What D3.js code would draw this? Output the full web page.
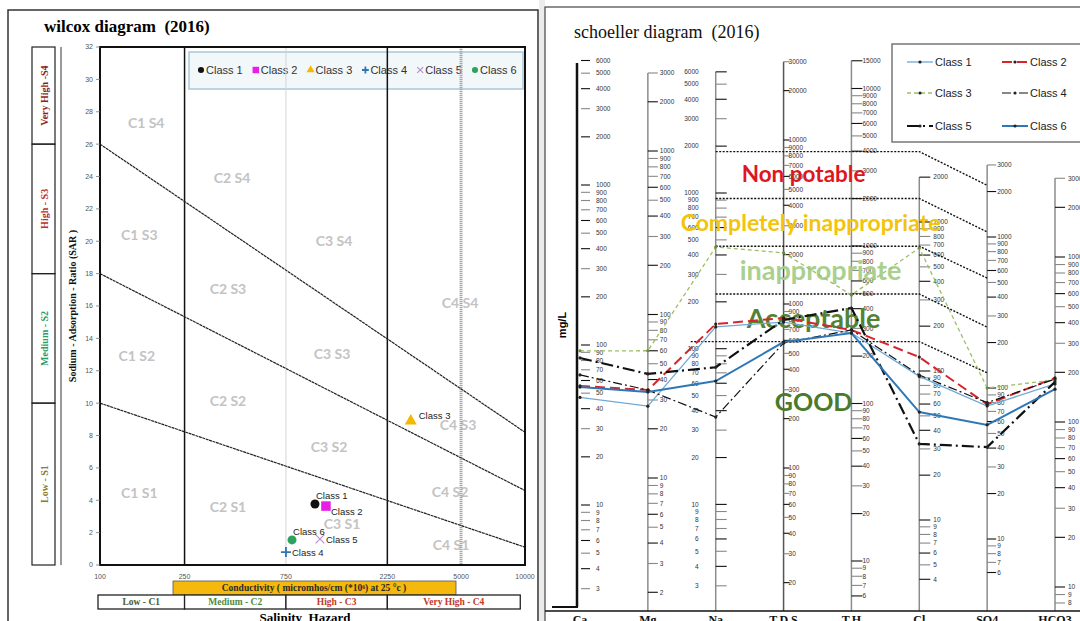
<!DOCTYPE html>
<html><head><meta charset="utf-8">
<script src="https://cdn.jsdelivr.net/npm/d3@7"></script>
<style>html,body{margin:0;padding:0;background:#fff;} svg{display:block;}</style>
</head><body>
<svg id="chart" width="1080" height="621"></svg>
<script>
// ================= WILCOX DATA =================
const wilcoxClasses = ["Class 1","Class 2","Class 3","Class 4","Class 5","Class 6"];
const wilcoxEC  = [1027, 1157, 2900, 750, 1084, 801];
const wilcoxSAR = [3.77, 3.64, 8.9, 0.8, 1.6, 1.55];
const ecTicks = [100, 250, 750, 2250, 5000, 10000];
const sarTicks = [0,2,4,6,8,10,12,14,16,18,20,22,24,26,28,30,32];
const sarLineStart = [26, 18, 10];    // SAR at EC = 100
const sarLineEnd   = [8.2, 4.6, 1.1]; // SAR at EC = 10000
const zoneLabels = ["C1 S4","C2 S4","C1 S3","C2 S3","C3 S4","C4 S4","C1 S2","C2 S2","C3 S3","C3 S2","C4 S3","C1 S1","C2 S1","C3 S1","C4 S2","C4 S1"];
const zoneEC  = [165, 418, 153, 400, 1262, 4943, 149, 400, 1236, 1197, 4842, 153, 400, 1377, 4436, 4485];
const zoneSAR = [27.3, 23.9, 20.4, 17.05, 20.0, 16.2, 12.9, 10.1, 13.0, 7.3, 8.65, 4.45, 3.6, 2.55, 4.5, 1.2];
const sodiumHazard = ["Low - S1","Medium - S2","High - S3","Very High -S4"];
const sodiumBounds = [0, 10, 18, 26, 32];
const salinityHazard = ["Low - C1","Medium - C2","High - C3","Very High - C4"];
const salinityBounds = [100, 250, 750, 2250, 9500];

// ================= SCHOELLER DATA =================
const schoellerParams = ["Ca","Mg","Na","T.D.S","T.H","Cl","SO4","HCO3"];
const schoellerClasses = ["Class 1","Class 2","Class 3","Class 4","Class 5","Class 6"];
const class1Values = [47, 27.5, 138, 776, 280, 92, 76, 170];
const class2Values = [55.5, 34.5, 144, 822, 293, 124, 78, 185];
const class3Values = [92, 60, 450, 2050, 489, 669, 100, 180];
const class4Values = [65, 34.5, 36.4, 578, 293, 94, 80, 182];
const class5Values = [83, 43.3, 76, 799, 404, 32.4, 40.6, 175];
const class6Values = [54.6, 33.6, 62, 586, 280, 53, 57, 158];
const axisDomains = [[3,6000],[2,3000],[3,6000],[20,30000],[6,15000],[4,2000],[6,3000],[6,3000]];
const zoneNames = ["Non potable","Completely inappropriate","inappropriate","Acceptable","GOOD"];
const zoneBoundTDS = [8500, 4400, 2250, 1150, 590];
const zoneBoundSO4 = [2200, 1080, 535, 253, 126];
const zoneLabelTDS = [6200, 3100, 1610, 820, 250];

// ================= STYLE / LAYOUT =================
const serif = "'Liberation Serif','Times New Roman',serif";
const sans  = "'Liberation Sans',Arial,sans-serif";
const cal   = "Lato,'Open Sans',sans-serif";
const svg = d3.select("#chart");

// frames
svg.append("rect").attr("x",539).attr("y",0).attr("width",6).attr("height",621).attr("fill","#ececec");
svg.append("rect").attr("x",8).attr("y",10).attr("width",530).attr("height",660)
  .attr("fill","#fff").attr("stroke","#333").attr("stroke-width",1.5);
svg.append("rect").attr("x",545).attr("y",7).attr("width",560).attr("height",660)
  .attr("fill","#fff").attr("stroke","#444").attr("stroke-width",1.2);

// ---------------- WILCOX ----------------
const W = {left:100, right:525, top:47, bottom:565};
const x = d3.scaleLog().domain([100,10000]).range([W.left, W.right]);
const y = d3.scaleLinear().domain([0,32]).range([W.bottom, W.top]);
const gw = svg.append("g");

gw.append("text").attr("x",44).attr("y",32).text("wilcox diagram  (2016)")
  .style("white-space","pre").attr("font-family",serif).attr("font-weight","bold").attr("font-size",17);

// legend box (behind lines)
const legX0 = 201, legStep = 54.8, legY = 70;
gw.append("rect").attr("x",189).attr("y",52).attr("width",334).attr("height",37)
  .attr("fill","#f2f7fa").attr("stroke","#aac9d8").attr("stroke-width",1.5);
const markerColors = ["#111","#e61ee6","#f5b800","#2e75b6","#b58bd0","#2da160"];
function drawMarker(g, i, cx, cy, s) {
  if (i === 0 || i === 5) g.append("circle").attr("cx",cx).attr("cy",cy).attr("r",3.6*s).attr("fill",markerColors[i]);
  else if (i === 1) g.append("rect").attr("x",cx-3.8*s).attr("y",cy-3.8*s).attr("width",7.6*s).attr("height",7.6*s).attr("fill",markerColors[i]);
  else if (i === 2) g.append("path").attr("d",d3.symbol(d3.symbolTriangle, 40*s*s)()).attr("transform",`translate(${cx},${cy})`).attr("fill",markerColors[i]);
  else if (i === 3) g.append("path").attr("d",`M${cx-4*s},${cy}H${cx+4*s}M${cx},${cy-4*s}V${cy+4*s}`).attr("stroke",markerColors[i]).attr("stroke-width",1.8);
  else g.append("path").attr("d",`M${cx-3.5*s},${cy-3.5*s}L${cx+3.5*s},${cy+3.5*s}M${cx-3.5*s},${cy+3.5*s}L${cx+3.5*s},${cy-3.5*s}`).attr("stroke",markerColors[i]).attr("stroke-width",1.1);
}
wilcoxClasses.forEach((c,i) => {
  const cx = legX0 + i*legStep;
  drawMarker(gw, i, cx, legY, 0.85);
  gw.append("text").attr("x",cx+5).attr("y",legY).attr("dy","0.35em").text(c)
    .attr("font-family",sans).attr("font-size",11).attr("fill","#333");
});

// region labels
zoneLabels.forEach((t,i) => {
  gw.append("text").attr("x",x(zoneEC[i])).attr("y",y(zoneSAR[i])).attr("dy","0.35em")
    .attr("text-anchor","middle").text(t).attr("font-family",cal).attr("font-weight","bold")
    .attr("font-size",14).attr("fill","#c3c3c3");
});

// vertical class lines
gw.append("line").attr("x1",x(750)).attr("x2",x(750)).attr("y1",W.top).attr("y2",W.bottom).attr("stroke","#d4d4d4").attr("stroke-width",1);
gw.append("line").attr("x1",x(5000)).attr("x2",x(5000)).attr("y1",W.top).attr("y2",W.bottom).attr("stroke","#a8a8a8").attr("stroke-width",3).attr("stroke-dasharray","1.2,0.8");
[250, 2250].forEach(v => gw.append("line").attr("x1",x(v)).attr("x2",x(v)).attr("y1",W.top).attr("y2",W.bottom).attr("stroke","#111").attr("stroke-width",1.5));

// diagonal SAR lines
sarLineStart.forEach((s,i) => {
  gw.append("line").attr("x1",x(100)).attr("y1",y(s)).attr("x2",x(10000)).attr("y2",y(sarLineEnd[i]))
    .attr("stroke","#222").attr("stroke-width",1.2).attr("stroke-dasharray","3,0.6");
});

// plot border
gw.append("rect").attr("x",W.left).attr("y",W.top).attr("width",W.right-W.left).attr("height",W.bottom-W.top)
  .attr("fill","none").attr("stroke","#111").attr("stroke-width",2);

// y ticks
sarTicks.forEach(v => {
  gw.append("text").attr("x",93).attr("y",y(v)).attr("dy","0.35em").attr("text-anchor","end").text(v)
    .attr("font-family",sans).attr("font-size",7).attr("fill","#555");
  gw.append("line").attr("x1",96).attr("x2",W.left).attr("y1",y(v)).attr("y2",y(v)).attr("stroke","#777").attr("stroke-width",0.8);
});
// x ticks
ecTicks.forEach(v => {
  gw.append("text").attr("x",x(v)).attr("y",577).attr("dy","0.35em").attr("text-anchor","middle").text(v)
    .attr("font-family",sans).attr("font-size",7).attr("fill","#555");
});

// points
const ptLabelDx = [1, 5, 8, 6, 6, 1];
const ptLabelDy = [-8, 6, -5, 1, 1, -8];
wilcoxClasses.forEach((c,i) => {
  const px = x(wilcoxEC[i]), py = y(wilcoxSAR[i]);
  drawMarker(gw, i, px, py, 1.25);
  gw.append("text").attr("x", px + ptLabelDx[i]).attr("y", py + ptLabelDy[i]).attr("dy","0.35em")
    .text(c).attr("font-family",sans).attr("font-size",9.5).attr("fill","#222");
});

// sodium hazard boxes
const sodColors = ["#8a7b2c","#2f9a6a","#b8312f","#8f1f1f"];
sodiumHazard.forEach((t,i) => {
  const y0 = y(sodiumBounds[i+1]), y1 = y(sodiumBounds[i]);
  gw.append("rect").attr("x",32).attr("y",y0).attr("width",23).attr("height",y1-y0)
    .attr("fill","none").attr("stroke","#222").attr("stroke-width",1.2);
  gw.append("text").attr("transform",`translate(44,${(y0+y1)/2}) rotate(-90)`).attr("dy","0.35em")
    .attr("text-anchor","middle").text(t).attr("font-family",serif).attr("font-weight","bold")
    .attr("font-size",10).attr("fill",sodColors[i]);
});
gw.append("line").attr("x1",61).attr("x2",61).attr("y1",y(32)).attr("y2",y(0)).attr("stroke","#9a9a9a").attr("stroke-width",2);
gw.append("text").attr("transform",`translate(72,${(W.top+W.bottom)/2}) rotate(-90)`).attr("dy","0.35em")
  .attr("text-anchor","middle").text("Sodium - Adsorption - Ratio (SAR )")
  .attr("font-family",serif).attr("font-weight","bold").attr("font-size",10).attr("fill","#111");

// conductivity bar
gw.append("rect").attr("x",173).attr("y",581).attr("width",283).attr("height",14)
  .attr("fill","#f5b80c").attr("stroke","#555").attr("stroke-width",0.8);
gw.append("text").attr("x",314).attr("y",588).attr("dy","0.35em").attr("text-anchor","middle")
  .text("Conductivity ( micromhos/cm (*10⁶) at 25 °c )")
  .attr("font-family",serif).attr("font-weight","bold").attr("font-size",9.5).attr("fill","#2a2a2a");

// salinity hazard boxes
const salColors = ["#4b5b2b","#4f8b3b","#c0392b","#c0392b"];
salinityHazard.forEach((t,i) => {
  const x0 = x(salinityBounds[i]) - (i===0?2:0), x1 = x(salinityBounds[i+1]);
  gw.append("rect").attr("x",x0).attr("y",595).attr("width",x1-x0).attr("height",14)
    .attr("fill","#fff").attr("stroke","#222").attr("stroke-width",1.3);
  gw.append("text").attr("x",(x0+x1)/2).attr("y",602).attr("dy","0.35em").attr("text-anchor","middle").text(t)
    .attr("font-family",serif).attr("font-weight","bold").attr("font-size",9.5).attr("fill",salColors[i]);
});
gw.append("text").attr("x",305).attr("y",622).attr("text-anchor","middle").text("Salinity  Hazard")
  .style("white-space","pre").attr("font-family",serif).attr("font-weight","bold").attr("font-size",13);

// ---------------- SCHOELLER ----------------
const gs = svg.append("g");
gs.append("text").attr("x",574).attr("y",38).text("schoeller diagram  (2016)").style("white-space","pre")
  .attr("font-family",serif).attr("font-size",18).attr("fill","#111");

const xS = d3.scalePoint().domain(schoellerParams).range([580,1055]);
const axisY1000 = [185, 151, 193, 304, 246, 222, 237, 257];
const axisPxPerDecade = [160, 163.5, 155.7, 164, 157.5, 149, 151, 165];
const yS = axisY1000.map((y0,i) => d3.scaleLog().domain([1000,10]).range([y0, y0 + 2*axisPxPerDecade[i]]));
const tickLen = [10, 10, 11, 6, 11, 11, 9, 10];
const labelOff = [16, 12, -17, 5, 11, 14, 10, 13];
const axisBottom = 611;

// mg/L axis
gs.append("line").attr("x1",577).attr("x2",577).attr("y1",63).attr("y2",607).attr("stroke","#111").attr("stroke-width",2.5);
gs.append("line").attr("x1",552).attr("x2",578).attr("y1",607).attr("y2",607).attr("stroke","#111").attr("stroke-width",2);
gs.append("text").attr("transform","translate(562,325) rotate(-90)").attr("dy","0.35em").attr("text-anchor","middle")
  .text("mg/L").attr("font-family",sans).attr("font-weight","bold").attr("font-size",11);

schoellerParams.forEach((p,i) => {
  const ax = xS(p), sc = yS[i], dom = axisDomains[i];
  if (i > 0) gs.append("line").attr("x1",ax).attr("x2",ax).attr("y1",sc(dom[1])).attr("y2",axisBottom)
    .attr("stroke", i===3 ? "#555" : "#8c8c8c").attr("stroke-width",1.5);
  let ticks = d3.scaleLog().domain(dom).ticks().filter(v => v >= dom[0] && v <= dom[1] && sc(v) < axisBottom - 4);
  if (ticks[ticks.length-1] !== dom[1]) ticks.push(dom[1]);
  ticks.forEach(v => {
    const ty = sc(v);
    const lead = +String(v)[0];
    gs.append("line").attr("x1",ax+(i===0?1:0)).attr("x2",ax+tickLen[i]).attr("y1",ty).attr("y2",ty)
      .attr("stroke", (lead===1||lead===2||lead===4||lead===6) ? "#111" : "#888").attr("stroke-width",1.1);
    gs.append("text").attr("x",ax+labelOff[i]).attr("y",ty).attr("dy","0.35em")
      .attr("text-anchor", labelOff[i] < 0 ? "end" : "start").text(v)
      .attr("font-family",sans).attr("font-size",6.5).attr("fill","#333");
  });
  gs.append("text").attr("x",ax).attr("y",624).attr("text-anchor","middle").text(p)
    .attr("font-family",serif).attr("font-weight","bold").attr("font-size",12).attr("fill","#111");
});
gs.append("line").attr("x1",545).attr("x2",1080).attr("y1",axisBottom).attr("y2",axisBottom).attr("stroke","#111").attr("stroke-width",1.5);

// zone boundaries
const iTDS = 3, iSO4 = 6;
zoneBoundTDS.forEach((b,i) => {
  const yy = yS[iTDS](b);
  const xStart = xS("Na") - (i === zoneBoundTDS.length-1 ? 25 : 0);
  gs.append("path").attr("d",`M${xStart},${yy}L${xS("Cl")},${yy}L${xS("SO4")},${yS[iSO4](zoneBoundSO4[i])}`)
    .attr("fill","none").attr("stroke","#111").attr("stroke-width",1.4).attr("stroke-dasharray","2,1.5");
});
// zone labels
const zoneColors = ["#e0161f","#f2c40c","#a9d08e","#548235","#4a7a2c"];
const zoneSizes = [22.5, 23, 27, 27, 25];
const zoneDx = [20, 27, 37, 30, 30];
zoneNames.forEach((t,i) => {
  gs.append("text").attr("x",xS("T.D.S")+zoneDx[i]).attr("y",yS[iTDS](zoneLabelTDS[i])).attr("dy","0.35em")
    .attr("text-anchor","middle").text(t).attr("font-family",cal).attr("font-weight","bold")
    .attr("font-size",zoneSizes[i]).attr("fill",zoneColors[i]);
});

// series
const seriesValues = [class1Values, class2Values, class3Values, class4Values, class5Values, class6Values];
const seriesColors = ["#6fa8d6","#d7262b","#9dbf62","#111","#111","#2f78b7"];
const seriesWidths = [1.3, 2, 1.3, 1.2, 2.2, 2];
const seriesDash = [null, "10,5", "4,3", "9,3,2,3", "12,4,2,4", null];
const line = d3.line().x((d,i) => xS(schoellerParams[i])).y((d,i) => yS[i](d));
seriesValues.forEach((vals,k) => {
  gs.append("path").attr("d", line(vals)).attr("fill","none").attr("stroke",seriesColors[k])
    .attr("stroke-width",seriesWidths[k]).attr("stroke-dasharray",seriesDash[k]);
  vals.forEach((v,i) => gs.append("circle").attr("cx",xS(schoellerParams[i])).attr("cy",yS[i](v)).attr("r",1.6)
    .attr("fill", k===2 ? "#6b8a3a" : "#222"));
});

// right legend
gs.append("rect").attr("x",892).attr("y",44).attr("width",200).attr("height",98)
  .attr("fill","#fff").attr("stroke","#777").attr("stroke-width",1.5);
schoellerClasses.forEach((c,k) => {
  const lx = k % 2 === 0 ? 907 : 1002;
  const ly = [62, 93, 126][Math.floor(k/2)];
  gs.append("line").attr("x1",lx).attr("x2",lx+26).attr("y1",ly).attr("y2",ly)
    .attr("stroke",seriesColors[k]).attr("stroke-width",seriesWidths[k]).attr("stroke-dasharray",seriesDash[k]);
  gs.append("circle").attr("cx",lx+13).attr("cy",ly).attr("r",1.6).attr("fill","#222");
  gs.append("text").attr("x",lx+28).attr("y",ly).attr("dy","0.35em").text(c)
    .attr("font-family",sans).attr("font-size",11).attr("fill","#222");
});
</script>
</body></html>
